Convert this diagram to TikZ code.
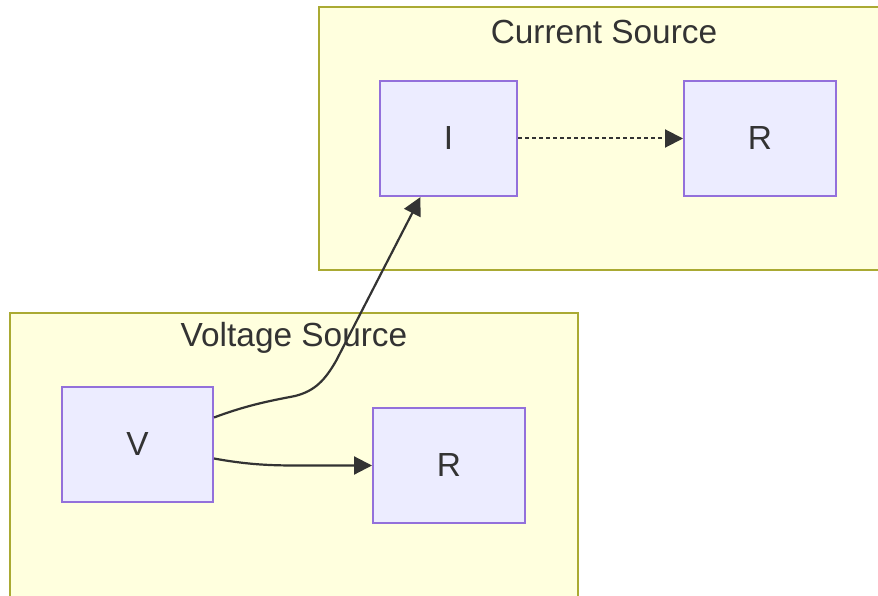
\documentclass[tikz,border=0pt]{standalone}
\usepackage{fontspec}
\setmainfont{Liberation Sans}
\usetikzlibrary{arrows.meta}
\definecolor{clfill}{HTML}{FFFFDE}
\definecolor{clline}{HTML}{AAAA33}
\definecolor{ndfill}{HTML}{ECECFF}
\definecolor{ndline}{HTML}{9370DB}
\definecolor{txt}{HTML}{333333}
\tikzset{
  cluster/.style={draw=clline, fill=clfill, line width=2pt},
  ctitle/.style={text=txt, font=\fontsize{33.4}{40}\selectfont, inner sep=0pt, anchor=center},
  nodebox/.style={draw=ndline, fill=ndfill, line width=2pt, text=txt,
    font=\fontsize{33.4}{40}\selectfont, minimum height=115pt, inner sep=0pt},
  link/.style={draw=txt, line width=2.2pt, -{Triangle[length=18pt,width=18pt]}},
  dotlink/.style={link, line width=2pt, dash pattern=on 4pt off 3pt},
}
\begin{document}
\begin{tikzpicture}[x=1pt,y=-1pt]
\useasboundingbox (0,0) rectangle (878,596);
\clip (0,0) rectangle (878,596);
\fill[white] (0,0) rectangle (878,596);
% clusters
\draw[cluster] (319,7) rectangle (882,270);
\node[ctitle] (t1) at (604,32) {Current Source};
\draw[cluster] (10,313) rectangle (578,602);
\node[ctitle] (t2) at (294,338) {Voltage Source};
% nodes
\node[nodebox, minimum width=137pt] (I) at (448.5,138.5) {I};
\node[nodebox, minimum width=152pt] (R1) at (760,138.5) {R};
\node[nodebox, minimum width=151pt] (V) at (137.5,444.5) {V};
\node[nodebox, minimum width=152pt] (R2) at (449,465.5) {R};
% edges
\draw[dotlink] (I.east) -- (R1.west);
\draw[link] ([yshift=27pt]V.east) .. controls (250,404) and (275,400) .. (295,396)
  .. controls (315,391) and (325,380) .. (336,361) -- ([xshift=-28pt]I.south);
\draw[link] ([yshift=-14pt]V.east) .. controls (255,466) and (280,465.5) .. (310,465.5) -- (R2.west);
\end{tikzpicture}
\end{document}
